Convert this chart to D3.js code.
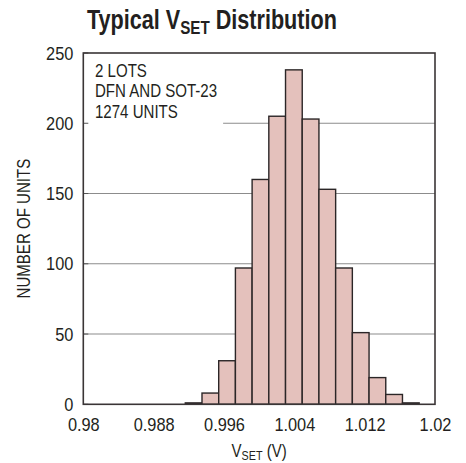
<!DOCTYPE html>
<html>
<head>
<meta charset="utf-8">
<script src="https://cdn.jsdelivr.net/npm/d3@7"></script>
<style>
  body { margin: 0; background: #fff; }
  text { font-family: "Liberation Sans", Arial, Helvetica, sans-serif; fill: #231f20; }
</style>
</head>
<body>
<div id="chart"></div>
<script>
//data
const binStart = [0.9916, 0.9935, 0.9954, 0.9973, 0.9992, 1.0011, 1.0030, 1.0049, 1.0068, 1.0087, 1.0106, 1.0125, 1.0144, 1.0163];
const binWidth = 0.0019;
const counts = [1, 8, 31, 97, 160, 205, 238, 203, 153, 97, 51, 19, 7, 1];
const xTicks = [0.98, 0.988, 0.996, 1.004, 1.012, 1.02];
const xTickLabels = ["0.98", "0.988", "0.996", "1.004", "1.012", "1.02"];
const yTicks = [0, 50, 100, 150, 200, 250];
const notes = ["2 LOTS", "DFN AND SOT-23", "1274 UNITS"];

//canvas
const width = 466, height = 463,
    pLeft = 83.3, pRight = 435, pTop = 53, pBottom = 404.3,
    squeeze = 0.86; // condensed look

const svg = d3.select("#chart").append("svg")
    .attr("width", width)
    .attr("height", height);

const x = d3.scaleLinear().domain([0.98, 1.02]).range([pLeft, pRight]);
const y = d3.scaleLinear().domain([0, 250]).range([pBottom, pTop]);

//shrink plain text horizontally
function condense(sel, k) {
  sel.each(function () {
    const w = this.getComputedTextLength();
    d3.select(this).attr("textLength", w * k).attr("lengthAdjust", "spacingAndGlyphs");
  });
}

//title
const title = svg.append("g").attr("transform", "translate(87,29.3)");
const tt = title.append("text")
    .style("font-size", "27px").style("font-weight", "bold");
tt.append("tspan").text("Typical V");
tt.append("tspan").attr("dy", 5).style("font-size", "19px").text("SET");
tt.append("tspan").attr("dy", -5).text(" Distribution");
const tw = tt.node().getBBox().width;
title.attr("transform", "translate(87,29.3) scale(" + (250 / tw) + ",1)");

//annotation
const note = svg.append("g");
note.selectAll("text")
    .data(notes)
    .enter().append("text")
    .attr("x", 95)
    .attr("y", (d, i) => 76.7 + i * 20.6)
    .style("font-size", "17.5px")
    .text(d => d)
    .call(condense, squeeze);
let noteRight = 0;
note.selectAll("text").each(function () {
  const b = this.getBBox();
  const tl = +this.getAttribute("textLength");
  noteRight = Math.max(noteRight, b.x + tl);
});

//grid
svg.append("g")
    .selectAll("line")
    .data(yTicks.filter(d => d > 0 && d < 250))
    .enter().append("line")
    .attr("x1", d => d === 200 ? noteRight + 6 : pLeft)
    .attr("x2", pRight)
    .attr("y1", d => y(d))
    .attr("y2", d => y(d))
    .attr("stroke", "#8c8c8c")
    .attr("stroke-width", 1.1);

//inner ticks on y
svg.append("g")
    .selectAll("line")
    .data(yTicks)
    .enter().append("line")
    .attr("x1", pLeft).attr("x2", pLeft + 5)
    .attr("y1", d => y(d)).attr("y2", d => y(d))
    .attr("stroke", "#555").attr("stroke-width", 1);

//bars
svg.append("g")
    .selectAll("rect")
    .data(counts)
    .enter().append("rect")
    .attr("x", (d, i) => x(binStart[i]))
    .attr("width", (d, i) => x(binStart[i] + binWidth) - x(binStart[i]))
    .attr("y", d => y(d))
    .attr("height", d => y(0) - y(d))
    .attr("fill", "#e4c1bc")
    .attr("stroke", "#2b2627")
    .attr("stroke-width", 1.4);

//frame
svg.append("rect")
    .attr("x", pLeft).attr("y", pTop)
    .attr("width", pRight - pLeft).attr("height", pBottom - pTop)
    .attr("fill", "none")
    .attr("stroke", "#3a3536")
    .attr("stroke-width", 1.6);

//axes
const yAxis = svg.append("g")
    .attr("transform", "translate(" + pLeft + ",0)")
    .call(d3.axisLeft(y).tickValues(yTicks).tickSize(0).tickPadding(10));
yAxis.select(".domain").remove();
yAxis.attr("font-family", null).attr("font-size", null);
yAxis.selectAll("text")
    .attr("fill", "#231f20")
    .style("font-size", "19px")
    .call(condense, squeeze);

const xAxis = svg.append("g")
    .attr("transform", "translate(0," + pBottom + ")")
    .call(d3.axisBottom(x).tickValues(xTicks).tickSize(0).tickPadding(13)
      .tickFormat((d, i) => xTickLabels[i]));
xAxis.select(".domain").remove();
xAxis.attr("font-family", null).attr("font-size", null);
xAxis.selectAll("text")
    .attr("fill", "#231f20")
    .style("font-size", "19px")
    .call(condense, squeeze);

//axis titles
const xlG = svg.append("g")
    .attr("transform", "translate(" + ((pLeft + pRight) / 2) + ",456.7) scale(" + squeeze + ",1)");
const xl = xlG.append("text")
    .attr("text-anchor", "middle")
    .style("font-size", "17.5px");
xl.append("tspan").text("V");
xl.append("tspan").attr("dy", 3).style("font-size", "12.5px").text("SET");
xl.append("tspan").attr("dy", -3).text(" (V)");

svg.append("text")
    .attr("transform", "translate(30," + ((pTop + pBottom) / 2) + ") rotate(-90)")
    .attr("text-anchor", "middle")
    .style("font-size", "17.5px")
    .text("NUMBER OF UNITS")
    .call(condense, squeeze);
</script>
</body>
</html>
